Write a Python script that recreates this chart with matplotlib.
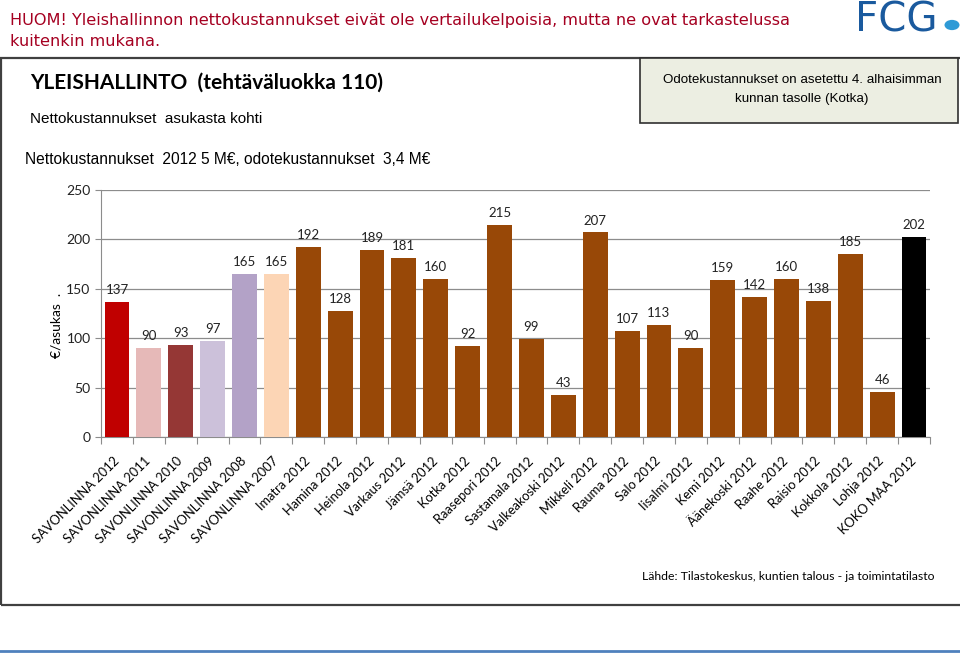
import matplotlib

matplotlib.use("Agg")
import matplotlib.pyplot as plt
from matplotlib.patches import Rectangle, Circle
from matplotlib.lines import Line2D

W, H = 960, 656

categories = [
    "SAVONLINNA 2012", "SAVONLINNA 2011", "SAVONLINNA 2010", "SAVONLINNA 2009",
    "SAVONLINNA 2008", "SAVONLINNA 2007", "Imatra 2012", "Hamina 2012",
    "Heinola 2012", "Varkaus 2012", "Jämsä 2012", "Kotka 2012",
    "Raasepori 2012", "Sastamala 2012", "Valkeakoski 2012", "Mikkeli 2012",
    "Rauma 2012", "Salo 2012", "Iisalmi 2012", "Kemi 2012",
    "Äänekoski 2012", "Raahe 2012", "Raisio 2012", "Kokkola 2012",
    "Lohja 2012", "KOKO MAA 2012",
]
values = [137, 90, 93, 97, 165, 165, 192, 128, 189, 181, 160, 92, 215, 99,
          43, 207, 107, 113, 90, 159, 142, 160, 138, 185, 46, 202]
brown = "#984807"
bar_colors = ["#c00000", "#e6b9b8", "#953735", "#ccc1da", "#b3a2c7", "#fcd5b5"] \
    + [brown] * 19 + ["#000000"]
y_ticks = [0, 50, 100, 150, 200, 250]

LABEL_FONT = ["Lato", "DejaVu Sans"]
ARIAL = ["Liberation Sans", "DejaVu Sans"]


def fx(x):
    return x / W


def fy(y):
    return 1 - y / H


fig = plt.figure(figsize=(W / 100, H / 100), dpi=100)

# frame around the slide content
fig.patches.append(Rectangle((fx(1), fy(605)), fx(1000), fy(58) - fy(605),
                             transform=fig.transFigure, fill=False,
                             edgecolor="#404040", lw=1.6, clip_on=False))
# note box on the right
fig.patches.append(Rectangle((fx(640), fy(123)), fx(318), fy(58) - fy(123),
                             transform=fig.transFigure, facecolor="#eceee2",
                             edgecolor="#303030", lw=1.2))
# bottom blue rule
fig.lines.append(Line2D([0, 1], [fy(651), fy(651)], transform=fig.transFigure,
                        color="#4f81bd", lw=2))

# header
fig.text(fx(10), fy(20), "HUOM! Yleishallinnon nettokustannukset eivät ole vertailukelpoisia, "
         "mutta ne ovat tarkastelussa", color="#a50021", fontsize=11.6,
         family="DejaVu Sans", va="center")
fig.text(fx(10), fy(42), "kuitenkin mukana.", color="#a50021", fontsize=11.6,
         family="DejaVu Sans", va="center")

# logo
fig.text(fx(855), fy(21), "FCG", color="#1a5a9e", fontsize=29,
         family="DejaVu Sans", va="center", ha="left")
fig.patches.append(Circle((fx(952), fy(25)), 7.5 / W, transform=fig.transFigure,
                          facecolor="#2e9ad6", edgecolor="none"))

fig.text(fx(30), fy(83), "YLEISHALLINTO  (tehtäväluokka 110)", fontsize=15,
         fontweight="bold", family=LABEL_FONT, va="center")
fig.text(fx(30), fy(119), "Nettokustannukset  asukasta kohti", fontsize=11,
         family=ARIAL, va="center")
fig.text(fx(25), fy(160), "Nettokustannukset  2012 5 M€, odotekustannukset  3,4 M€",
         fontsize=11.2, family=ARIAL, va="center")
fig.text(fx(802), fy(80), "Odotekustannukset on asetettu 4. alhaisimman",
         fontsize=9.6, family=ARIAL, ha="center", va="center")
fig.text(fx(802), fy(99), "kunnan tasolle (Kotka)",
         fontsize=9.6, family=ARIAL, ha="center", va="center")
fig.text(fx(935), fy(577), "Lähde: Tilastokeskus, kuntien talous - ja toimintatilasto",
         fontsize=8.8, family=LABEL_FONT, ha="right", va="center")

ax = fig.add_axes([fx(101), fy(437), fx(930) - fx(101), fy(190) - fy(437)])
x = range(len(categories))
bars = ax.bar(x, values, width=0.78, color=bar_colors, zorder=3)
for b, v in zip(bars, values):
    ax.text(b.get_x() + b.get_width() / 2, v + 6, str(v), ha="center",
            va="bottom", fontsize=9.5, family=LABEL_FONT, color="#222222")

ax.set_xlim(-0.5, len(categories) - 0.5)
ax.set_ylim(0, 250)
ax.set_yticks(y_ticks)
ax.yaxis.grid(True, color="#8c8c8c", lw=0.9, zorder=0)
ax.tick_params(axis="y", labelsize=10, colors="#8c8c8c", labelcolor="#222222",
               length=4, direction="out")
for lab in ax.get_yticklabels():
    lab.set_family(LABEL_FONT)

ax.set_xticks([i - 0.5 for i in range(len(categories) + 1)], minor=False)
ax.set_xticklabels([])
ax.set_xticks(list(x), minor=True)
ax.set_xticklabels(categories, minor=True, rotation=45, ha="right", va="center",
                   rotation_mode="anchor", fontsize=9.3, family=LABEL_FONT)
ax.tick_params(axis="x", which="major", length=5, colors="#8c8c8c")
ax.tick_params(axis="x", which="minor", length=0, pad=16)

for s in ["top", "right"]:
    ax.spines[s].set_visible(False)
for s in ["left", "bottom"]:
    ax.spines[s].set_color("#8c8c8c")

ax.set_ylabel("€/asukas  .", fontsize=10, family=LABEL_FONT)
ax.yaxis.set_label_coords(-0.047, 0.45)

fig.savefig("out.png", dpi=100)
